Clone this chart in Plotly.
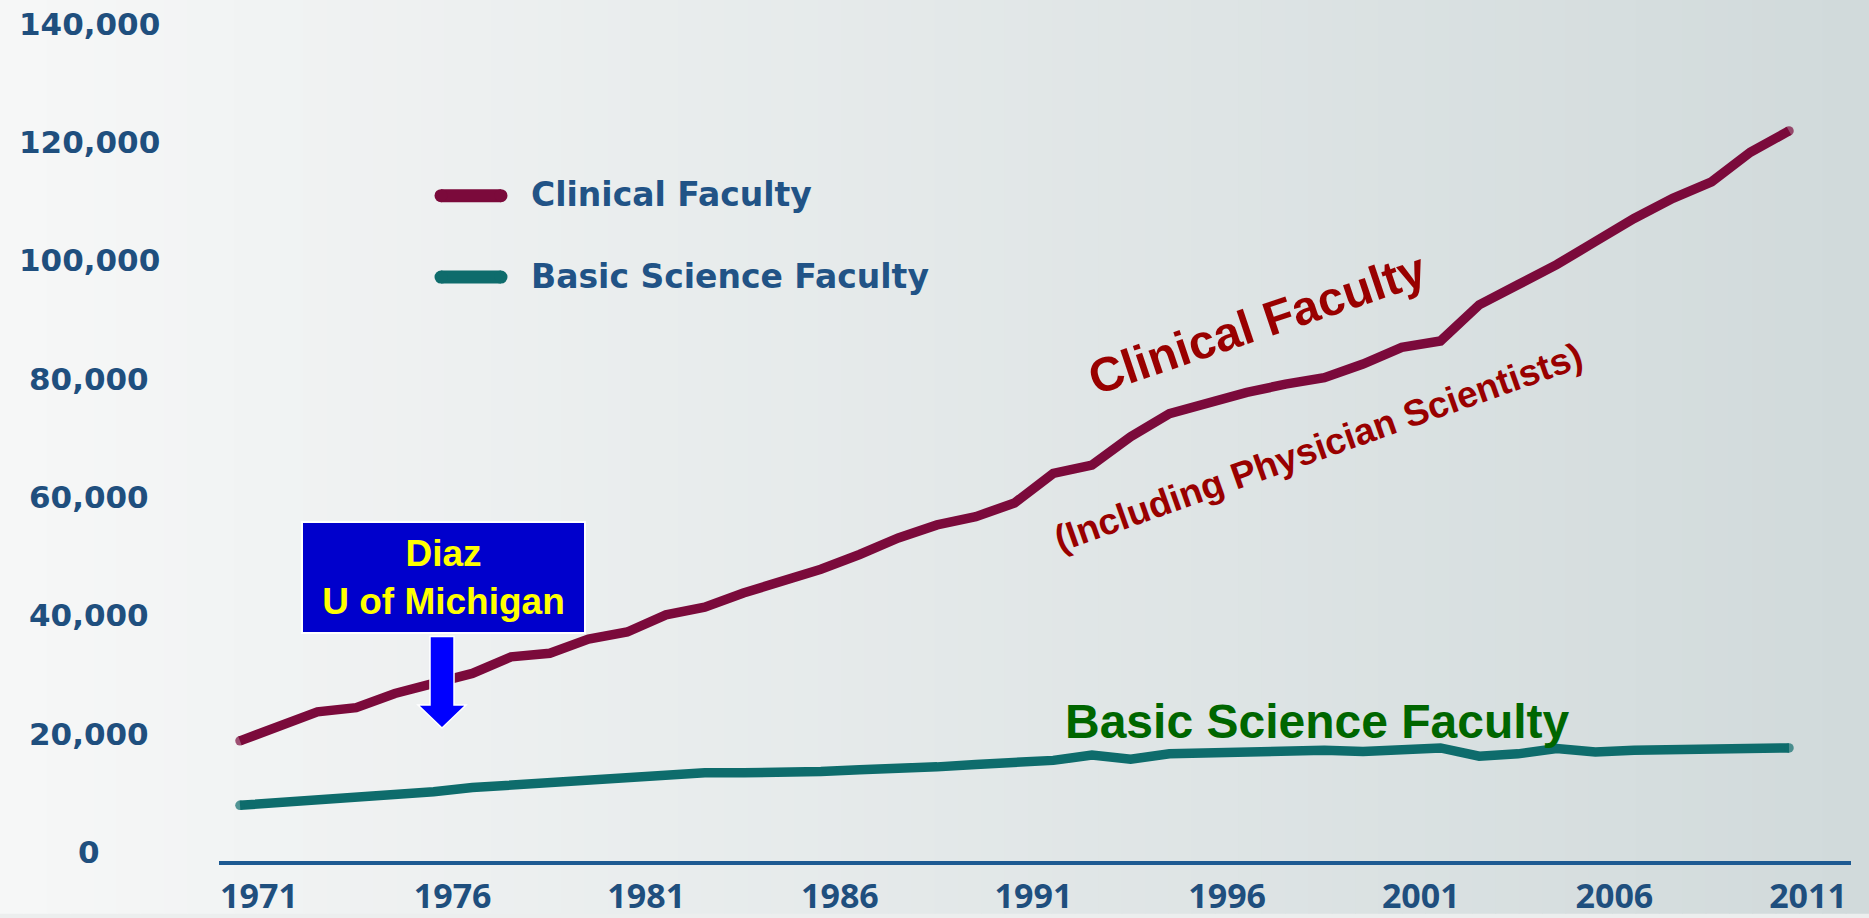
import plotly.graph_objects as go

# ---------------- data ----------------
years = list(range(1971, 2012))
clinical = [18800, 21200, 23700, 24400, 26800, 28500, 30200, 33000, 33600, 36000,
            37200, 40100, 41400, 43800, 45600, 47800, 50300, 53100, 55300, 56700,
            59000, 64000, 65400, 70200, 74100, 76000, 77700, 79100, 80200, 82500,
            85300, 86400, 92500, 95900, 99300, 103200, 107100, 110500, 113300, 118300,
            121900]
basic = [7900, 8300, 8900, 9500, 9900, 10200, 10900, 11300, 12100, 12500,
         12600, 13100, 13400, 13400, 13300, 13600, 13900, 14000, 14400, 14800,
         15100, 15500, 16400, 15700, 16600, 16800, 16900, 17100, 17200, 17000,
         17300, 17600, 16200, 16600, 17500, 16900, 17200, 17300, 17300, 17300,
         17600]
series_names = ["Clinical Faculty", "Basic Science Faculty"]
x_tick_years = [1971, 1976, 1981, 1986, 1991, 1996, 2001, 2006, 2011]
y_tick_values = [0, 20000, 40000, 60000, 80000, 100000, 120000, 140000]

# ---------------- styling ----------------
W, H = 1869, 918
L, R, T, B = 219, 18, 0, 51
PW, PH = W - L - R, H - T - B

CLIN = "#7b0a3b"
BASI = "#0e6c6c"
AXBLUE = "#1f4f7e"


def px(x):
    return (x - L) / PW


def py(y):
    return (H - B - y) / PH


fig = go.Figure()

n = len(years)
cap_sizes = [9.5] + [0] * (n - 2) + [9.5]
fig.add_trace(go.Scatter(x=years, y=clinical, mode="lines+markers", name=series_names[0],
                         line=dict(color=CLIN, width=9.5),
                         marker=dict(color=CLIN, size=cap_sizes, line=dict(width=0)),
                         showlegend=False, hoverinfo="skip"))
fig.add_trace(go.Scatter(x=years, y=basic, mode="lines+markers", name=series_names[1],
                         line=dict(color=BASI, width=9.5),
                         marker=dict(color=BASI, size=cap_sizes, line=dict(width=0)),
                         showlegend=False, hoverinfo="skip"))

shapes = []
# background gradient
nstrip = 80
c0 = (246, 247, 247)
c1 = (209, 218, 219)
for i in range(nstrip):
    t = i / (nstrip - 1)
    col = tuple(round(c0[k] + (c1[k] - c0[k]) * t) for k in range(3))
    xa = i * W / nstrip
    xb = (i + 1) * W / nstrip + 1
    shapes.append(dict(type="rect", xref="paper", yref="paper", layer="below",
                       x0=px(xa), x1=px(xb), y0=py(H + 2), y1=py(-2),
                       line=dict(width=0), fillcolor="rgb(%d,%d,%d)" % col))

# manual legend
legend_rows = [(197, CLIN, series_names[0]), (279, BASI, series_names[1])]
annotations = []
for yy, col, name in legend_rows:
    shapes.append(dict(type="line", xref="paper", yref="paper",
                       x0=px(441), x1=px(501), y0=py(yy), y1=py(yy),
                       line=dict(color=col, width=13)))
    for xx in (441, 501):
        shapes.append(dict(type="circle", xref="paper", yref="paper",
                           xsizemode="pixel", ysizemode="pixel",
                           xanchor=px(xx), yanchor=py(yy),
                           x0=-6.5, x1=6.5, y0=-6.5, y1=6.5,
                           line=dict(width=0), fillcolor=col))
    annotations.append(dict(xref="paper", yref="paper", x=px(529), y=py(yy - 1),
                            xanchor="left", yanchor="middle", showarrow=False,
                            text=name,
                            font=dict(family="DejaVu Sans", size=33, color="#215386", weight="bold")))

# y tick labels (centered, as in the reference)
for v in y_tick_values:
    annotations.append(dict(xref="paper", yref="y", x=px(89), y=v,
                            xanchor="center", yanchor="middle", showarrow=False,
                            text=f"{v:,}",
                            font=dict(family="DejaVu Sans", size=31, color=AXBLUE, weight="bold")))

# blue callout arrow
arrow_pts = [(430, 641), (454, 641), (454, 710), (466, 710), (442, 733),
             (418, 710), (430, 710)]
path = "M " + " L ".join(f"{px(a):.5f},{py(b):.5f}" for a, b in arrow_pts) + " Z"
shapes.append(dict(type="path", xref="paper", yref="paper", path=path,
                   fillcolor="#0000ff", line=dict(color="white", width=1.5)))

# callout box
annotations.append(dict(xref="paper", yref="paper", x=px(443.5), y=py(582),
                        xanchor="center", yanchor="middle", showarrow=False,
                        text="Diaz<br>U of Michigan", align="center",
                        width=281, height=109, bgcolor="#0000cc",
                        bordercolor="white", borderwidth=2, borderpad=0,
                        font=dict(family="Liberation Sans", size=37, color="#ffff00", weight="bold")))

# series labels
annotations.append(dict(xref="paper", yref="paper", x=px(1257), y=py(326),
                        xanchor="center", yanchor="middle", showarrow=False,
                        text="Clinical Faculty", textangle=-18.6,
                        font=dict(family="Liberation Sans", size=48, color="#990000", weight="bold")))
annotations.append(dict(xref="paper", yref="paper", x=px(1318), y=py(451),
                        xanchor="center", yanchor="middle", showarrow=False,
                        text="(Including Physician Scientists)", textangle=-19.5,
                        font=dict(family="Liberation Sans", size=37, color="#990000", weight="bold")))
annotations.append(dict(xref="paper", yref="paper", x=px(1317), y=py(727),
                        xanchor="center", yanchor="middle", showarrow=False,
                        text="Basic Science Faculty",
                        font=dict(family="Liberation Sans", size=48, color="#006600", weight="bold")))

fig.update_layout(
    width=W, height=H,
    margin=dict(l=L, r=R, t=T, b=B),
    paper_bgcolor="#eceeee",
    plot_bgcolor="rgba(0,0,0,0)",
    shapes=shapes,
    annotations=annotations,
    showlegend=False,
    hovermode=False,
)
fig.update_xaxes(range=[1970.458, 2012.601], tickmode="array", tickvals=x_tick_years,
                 ticktext=[str(v) for v in x_tick_years],
                 showgrid=False, zeroline=False, showline=True, linecolor="#1d5a92",
                 linewidth=4, ticks="", ticklabelshift=19, ticklabelstandoff=2,
                 tickfont=dict(family="Open Sans", size=34, color=AXBLUE, weight=700))
fig.update_yaxes(range=[-1511, 144030], showticklabels=False, showgrid=False,
                 zeroline=False, showline=False, ticks="")

fig.write_html("out.html", config={"displayModeBar": False},
               post_script="document.body.style.margin='0';document.body.style.overflow='hidden';"
                           "document.body.style.background='#e3e7e7';")
